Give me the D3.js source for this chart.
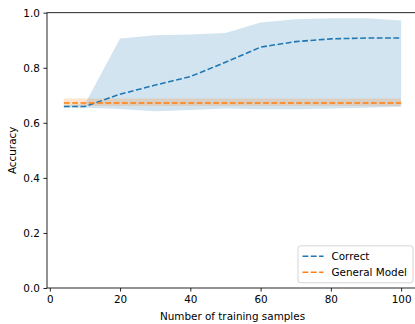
<!DOCTYPE html>
<html>
<head>
<meta charset="utf-8">
<script src="https://cdn.jsdelivr.net/npm/d3@7"></script>
<style>
  body { margin: 0; background: #fff; }
  text { font-family: "DejaVu Sans", sans-serif; }
</style>
</head>
<body>
<svg id="chart" width="415" height="324"></svg>
<script>
// training sample counts
var samples = [4, 10, 20, 30, 40, 50, 60, 70, 80, 90, 100];

// "Correct" mean and spread
var correctMean = [0.659, 0.659, 0.704, 0.737, 0.768, 0.820, 0.875, 0.895, 0.905, 0.908, 0.908];
var correctLow  = [0.655, 0.655, 0.650, 0.642, 0.647, 0.652, 0.649, 0.649, 0.652, 0.655, 0.658];
var correctHigh = [0.665, 0.668, 0.906, 0.918, 0.921, 0.926, 0.964, 0.976, 0.980, 0.980, 0.972];

// "General Model" baseline
var generalMean = [0.672, 0.672, 0.672, 0.672, 0.672, 0.672, 0.672, 0.672, 0.672, 0.672, 0.672];
var generalLow  = [0.661, 0.661, 0.661, 0.661, 0.661, 0.661, 0.661, 0.661, 0.661, 0.661, 0.661];
var generalHigh = [0.688, 0.688, 0.688, 0.688, 0.688, 0.688, 0.688, 0.688, 0.688, 0.688, 0.688];

var xTicks = [0, 20, 40, 60, 80, 100];
var yTicks = [0.0, 0.2, 0.4, 0.6, 0.8, 1.0];
var seriesNames = ["Correct", "General Model"];
var seriesColors = ["#1f77b4", "#ff7f0e"];

var svg = d3.select("#chart");
var pLeft = 47, pRight = 418, pTop = 12.7, pBottom = 288;
var fs = 10.4;

var x = d3.scaleLinear().domain([-0.8, 104.8]).range([pLeft, pRight]);
var y = d3.scaleLinear().domain([0, 1]).range([pBottom, pTop]);

var plot = svg.append("g");

function band(lo, hi, color) {
  var area = d3.area()
    .x(function(d, i) { return x(samples[i]); })
    .y0(function(d, i) { return y(lo[i]); })
    .y1(function(d, i) { return y(hi[i]); });
  plot.append("path")
    .attr("d", area(samples))
    .attr("fill", color)
    .attr("fill-opacity", 0.2);
}

function dashed(vals, color) {
  var line = d3.line()
    .x(function(d, i) { return x(samples[i]); })
    .y(function(d) { return y(d); });
  plot.append("path")
    .attr("d", line(vals))
    .attr("fill", "none")
    .attr("stroke", color)
    .attr("stroke-width", 1.56)
    .attr("stroke-dasharray", "5.8,2.5");
}

// fills first, then lines (matplotlib zorder)
band(correctLow, correctHigh, seriesColors[0]);
band(generalLow, generalHigh, seriesColors[1]);
dashed(correctMean, seriesColors[0]);
dashed(generalMean, seriesColors[1]);

// axes
var xAxis = d3.axisBottom(x).tickValues(xTicks).tickFormat(d3.format("d"))
  .tickSize(3.6).tickPadding(3.6).tickSizeOuter(0);
var yAxis = d3.axisLeft(y).tickValues(yTicks).tickFormat(d3.format(".1f"))
  .tickSize(3.6).tickPadding(3.6).tickSizeOuter(0);

var gx = svg.append("g").attr("transform", "translate(0," + pBottom + ")").call(xAxis);
var gy = svg.append("g").attr("transform", "translate(" + pLeft + ",0)").call(yAxis);
[gx, gy].forEach(function(g) {
  g.select(".domain").remove();
  g.selectAll(".tick line").attr("stroke", "#000").attr("stroke-width", 0.85);
  g.selectAll(".tick text").attr("fill", "#000").style("font-size", fs + "px")
    .style("font-family", "DejaVu Sans");
});

// spines
svg.append("rect")
  .attr("x", pLeft).attr("y", pTop)
  .attr("width", pRight - pLeft).attr("height", pBottom - pTop)
  .attr("fill", "none").attr("stroke", "#000").attr("stroke-width", 0.85);

// axis labels
svg.append("text")
  .attr("x", (pLeft + pRight) / 2).attr("y", 320)
  .attr("text-anchor", "middle")
  .style("font-size", fs + "px")
  .text("Number of training samples");

svg.append("text")
  .attr("transform", "translate(16," + ((pTop + pBottom) / 2) + ") rotate(-90)")
  .attr("text-anchor", "middle")
  .style("font-size", fs + "px")
  .text("Accuracy");

// legend, lower right
var lgW = 115, lgH = 37;
var lgX = 413 - lgW, lgY = pBottom - 5.2 - lgH;
var lg = svg.append("g").attr("transform", "translate(" + lgX + "," + lgY + ")");
lg.append("rect")
  .attr("width", lgW).attr("height", lgH).attr("rx", 2.5)
  .attr("fill", "#fff").attr("fill-opacity", 0.8)
  .attr("stroke", "#ccc").attr("stroke-width", 0.85);
seriesNames.forEach(function(name, i) {
  var cy = 10.5 + i * 16;
  lg.append("line")
    .attr("x1", 4.5).attr("x2", 25.5).attr("y1", cy).attr("y2", cy)
    .attr("stroke", seriesColors[i]).attr("stroke-width", 1.56)
    .attr("stroke-dasharray", "5.8,2.5");
  lg.append("text")
    .attr("x", 33.5).attr("y", cy).attr("dy", "0.35em")
    .style("font-size", fs + "px")
    .text(name);
});
</script>
</body>
</html>
